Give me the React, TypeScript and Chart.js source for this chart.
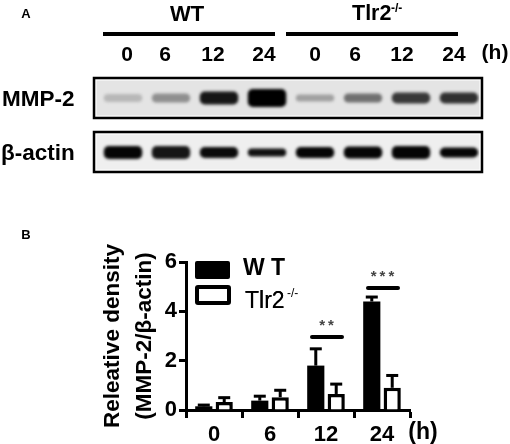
import React, { useEffect, useRef } from "react";
import { Chart, registerables } from "chart.js";

Chart.register(...registerables);

const FONT = '"Liberation Sans", Arial, sans-serif';

// Panel B
const hours = ["0", "6", "12", "24"];
const wtValues = [0.15, 0.38, 1.8, 4.4];
const wtUpper = [0.22, 0.58, 2.5, 4.6];
const koValues = [0.32, 0.52, 0.65, 0.9];
const koUpper = [0.52, 0.82, 1.07, 1.42];
const sigHours = ["12", "24"];
const sigLevels = [2.96, 4.95];
const sigMarks = ["**", "***"];

// Panel A
const lanes = ["0", "6", "12", "24", "0 ", "6 ", "12 ", "24 "];
const mmpThickness = [8, 9, 13, 18, 7, 9, 11, 11];
const mmpGray = ["#b8b8b8", "#8f8f8f", "#161616", "#000000", "#a0a0a0", "#707070", "#383838", "#303030"];
const actinThickness = [13, 13, 11, 8, 11, 12, 13, 10];
const actinGray = ["#050505", "#151515", "#0a0a0a", "#101010", "#050505", "#050505", "#050505", "#050505"];

const MMP_ROW = 21;
const ACTIN_ROW = 75.5;
const span = (row: number, t: number[]) => t.map((v) => [row - v / 2, row + v / 2]);

function text(ctx: any, s: string, x: number, y: number, font: string, align = "center") {
  ctx.font = font;
  ctx.textAlign = align;
  ctx.textBaseline = "middle";
  ctx.fillStyle = "#000";
  ctx.fillText(s, x, y);
}

const blotPlugin = {
  id: "blot",
  beforeDatasetsDraw(chart: any) {
    const ctx = chart.ctx;
    ctx.fillStyle = "#e4e4e4";
    ctx.fillRect(94, 78, 388, 40);
    ctx.fillStyle = "#efefef";
    ctx.fillRect(94, 132, 388, 40);
    ctx.save();
    ctx.filter = "blur(1.6px)";
  },
  afterDatasetsDraw(chart: any) {
    const ctx = chart.ctx;
    ctx.restore();
    ctx.strokeStyle = "#fff";
    ctx.lineWidth = 1;
    ctx.strokeRect(96, 80, 384, 36);
    ctx.strokeRect(96, 134, 384, 36);
    ctx.strokeStyle = "#000";
    ctx.lineWidth = 2.5;
    ctx.strokeRect(94, 78, 388, 40);
    ctx.strokeRect(94, 132, 388, 40);
  },
  afterDraw(chart: any) {
    const ctx = chart.ctx;
    const b = `bold 21px ${FONT}`;
    text(ctx, "A", 26, 14, `bold 13px ${FONT}`);
    text(ctx, "WT", 187, 15, `bold 22px ${FONT}`);
    text(ctx, "Tlr2", 352, 14, `bold 21.5px ${FONT}`, "left");
    text(ctx, "-/-", 391, 9, `bold 12px ${FONT}`, "left");
    ctx.fillStyle = "#000";
    ctx.fillRect(103, 32, 172, 4);
    ctx.fillRect(286, 32, 172, 4);
    const nudges = [4, -6, -6, -3, 0, -8, -9, -5];
    lanes.forEach((l, i) => {
      text(ctx, l.trim(), chart.scales.x.getPixelForValue(i) + nudges[i], 55, b);
    });
    text(ctx, "(h)", 495, 53, b);
    text(ctx, "MMP-2", 2, 100, `bold 22.5px ${FONT}`, "left");
    text(ctx, "β-actin", 1, 154, `bold 22.5px ${FONT}`, "left");
  },
};

const annotPlugin = {
  id: "annot",
  afterDatasetsDraw(chart: any) {
    const ctx = chart.ctx;
    const { x, y } = chart.scales;
    const drawErr = (ds: number, vals: number[], upper: number[], color: string) => {
      const meta = chart.getDatasetMeta(ds);
      vals.forEach((v, i) => {
        const px = meta.data[i].x;
        const top = y.getPixelForValue(upper[i]);
        ctx.fillStyle = color;
        ctx.fillRect(px - 1.5, top, 3, y.getPixelForValue(v) - top);
        ctx.fillRect(px - 6, top - 1, 12, 3);
      });
    };
    drawErr(0, wtValues, wtUpper, "#000");
    drawErr(1, koValues, koUpper, "#000");

    sigHours.forEach((h, i) => {
      const c = x.getPixelForValue(hours.indexOf(h));
      const py = y.getPixelForValue(sigLevels[i]);
      ctx.strokeStyle = "#000";
      ctx.lineWidth = 4;
      ctx.lineCap = "round";
      ctx.beginPath();
      ctx.moveTo(c - 14, py);
      ctx.lineTo(c + 16, py);
      ctx.stroke();
      ctx.font = `bold 15px ${FONT}`;
      ctx.letterSpacing = "3px";
      ctx.textAlign = "center";
      ctx.textBaseline = "middle";
      ctx.fillStyle = "#444";
      ctx.fillText(sigMarks[i], c + 2, py - 11);
      ctx.letterSpacing = "0px";
    });

    // legend
    ctx.fillStyle = "#000";
    ctx.beginPath();
    ctx.roundRect(195, 41, 35, 18, 2);
    ctx.fill();
    ctx.strokeStyle = "#000";
    ctx.lineWidth = 4;
    ctx.beginPath();
    ctx.roundRect(197, 67, 32, 16, 1);
    ctx.stroke();
    text(ctx, "W T", 243, 49, `bold 23px ${FONT}`, "left");
    text(ctx, "Tlr2", 245, 82, `23px ${FONT}`, "left");
    text(ctx, "Tlr2", 245, 82, `23px ${FONT}`, "left");
    text(ctx, "-/-", 287, 74, `12px ${FONT}`, "left");

    text(ctx, "B", 26, 15, `bold 13px ${FONT}`);
    text(ctx, "(h)", 423, 213, `bold 23px ${FONT}`);
  },
};

export default function App() {
  const topRef = useRef<HTMLCanvasElement>(null);
  const botRef = useRef<HTMLCanvasElement>(null);

  useEffect(() => {
    const blot = new Chart(topRef.current as any, {
      type: "bar",
      data: {
        labels: lanes,
        datasets: [
          { label: "MMP-2", data: span(MMP_ROW, mmpThickness) as any, backgroundColor: mmpGray },
          { label: "β-actin", data: span(ACTIN_ROW, actinThickness) as any, backgroundColor: actinGray },
        ],
      },
      options: {
        responsive: false,
        animation: false,
        layout: { padding: { left: 99, right: 27, top: 77, bottom: 17 } },
        plugins: { legend: { display: false }, tooltip: { enabled: false } },
        datasets: { bar: { grouped: false, barPercentage: 0.8, categoryPercentage: 1, borderRadius: 5, borderSkipped: false } },
        scales: {
          x: { display: false },
          y: { display: false, min: 0, max: 96, reverse: true },
        },
      } as any,
      plugins: [blotPlugin],
    });

    const tickFont = { family: FONT, weight: "bold" as const, size: 22 };
    const chart = new Chart(botRef.current as any, {
      type: "bar",
      data: {
        labels: hours,
        datasets: [
          { label: "WT", data: wtValues, backgroundColor: "#000", borderColor: "#000", borderWidth: 0 },
          { label: "Tlr2-/-", data: koValues, backgroundColor: "#fff", borderColor: "#000", borderWidth: 3.5 },
        ],
      },
      options: {
        responsive: false,
        animation: false,
        layout: { padding: { left: 0, right: 100, top: 42, bottom: 0 } },
        plugins: { legend: { display: false }, tooltip: { enabled: false } },
        datasets: { bar: { categoryPercentage: 0.73, barPercentage: 0.84 } },
        scales: {
          x: {
            afterFit: (s: any) => { s.height = 34; },
            grid: { drawOnChartArea: false, drawTicks: true, tickLength: 8, tickWidth: 3, tickColor: "#000" },
            border: { color: "#000", width: 3 },
            ticks: { color: "#000", font: tickFont, padding: 4, maxRotation: 0 },
          },
          y: {
            min: 0,
            max: 6,
            afterFit: (s: any) => { s.width = 186; },
            grid: { drawOnChartArea: false, drawTicks: true, tickLength: 7, tickWidth: 3, tickColor: "#000" },
            border: { color: "#000", width: 3 },
            ticks: { color: "#000", font: tickFont, stepSize: 2, padding: 2 },
            title: {
              display: true,
              text: ["Releative density", "(MMP-2/β-actin)"],
              color: "#000",
              font: { family: FONT, weight: "bold", size: 22.5, lineHeight: 1.45 },
              padding: { top: 96, bottom: 0 },
            },
          },
        },
      } as any,
      plugins: [annotPlugin],
    });

    return () => {
      blot.destroy();
      chart.destroy();
    };
  }, []);

  const base: React.CSSProperties = { position: "absolute", left: 0, filter: "blur(0.4px)" };
  return (
    <div style={{ position: "fixed", left: 0, top: 0, width: 510, height: 444, background: "#fff", overflow: "hidden" }}>
      <canvas ref={topRef} width={510} height={190} style={{ ...base, top: 0 }} />
      <canvas ref={botRef} width={510} height={224} style={{ ...base, top: 220 }} />
    </div>
  );
}
